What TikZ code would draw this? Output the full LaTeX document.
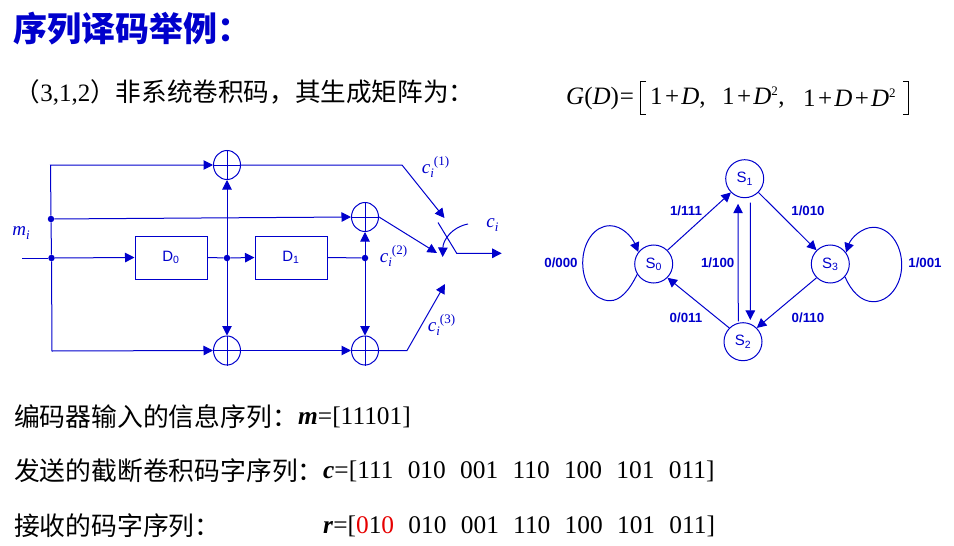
\documentclass[tikz,border=0pt]{standalone}
\usepackage{fontspec}
\setmainfont{Liberation Serif}
\newfontfamily\cjk{Noto Sans CJK SC}
\newfontfamily\arialf{Liberation Sans}
\usetikzlibrary{arrows.meta,shapes.geometric}
\definecolor{cblue}{RGB}{0,0,204}
\definecolor{cred}{RGB}{230,0,0}
\newcommand{\szz}[1]{\fontsize{#1}{#1}\selectfont}
\newcommand{\civar}{\textit{c}\raisebox{-0.2em}{\szz{13}\textit{i}}}
\newcommand{\cvar}[1]{\civar\raisebox{0.4em}{\szz{13}(#1)}}
\newcommand{\pls}{\kern2.3pt+\kern2.3pt}
\newcommand{\gap}{\hspace{14.3pt}}
\tikzset{
  wire/.style={cblue,line width=1pt},
  arr/.style={wire,-{Triangle[length=9.5pt,width=9.5pt]}},
  adder/.style={draw=cblue,line width=1pt,ellipse,minimum width=27pt,minimum height=29pt,inner sep=0pt},
  dot/.style={circle,fill=cblue,minimum size=6.5pt,inner sep=0pt},
  reg/.style={draw=cblue,line width=1pt,minimum width=72pt,minimum height=43pt,inner sep=0pt,text=cblue,font=\arialf\szz{15}},
  state/.style={circle,draw=cblue,line width=1pt,minimum size=38pt,inner sep=0pt,text=cblue,font=\arialf\szz{15}},
  tlabel/.style={text=cblue,inner sep=0pt,font=\arialf\bfseries\szz{13.3}},
  vlabel/.style={text=cblue,inner sep=0pt,font=\szz{19}},
  body/.style={anchor=west,inner sep=0pt,text=black,font=\szz{25}},
  latin/.style={anchor=west,inner sep=0pt,text=black,font=\szz{25.4}},
  heading/.style={anchor=west,inner sep=0pt,text=cblue,font=\cjk\bfseries\szz{34}},
}
\begin{document}
\begin{tikzpicture}[x=1pt,y=-1pt]
\useasboundingbox (0,0) rectangle (954,546);
% texts
\node[heading] (title) at (13,29) {序列译码举例：};
\node[body] (intro) at (14.5,92) {{\cjk\szz{25.6}（}3,1,2{\cjk\szz{25.6}）非系统卷积码，其生成矩阵为：}};
\node[body] (g0) at (566,98) {\textit{G}(\textit{D})\kern1pt=};
\node[body] (g1) at (650,98) {1\pls\textit{D},};
\node[body] (g2) at (722,98) {1\pls\textit{D}\textsuperscript{\szz{13}2},};
\node[body] (g3) at (803,98) {1\pls\textit{D}\pls\textit{D}\textsuperscript{\szz{13}2}};
\draw[black,line width=1pt] (646,81) -- (640.5,81) -- (640.5,114) -- (646,114);
\draw[black,line width=1pt] (903,81) -- (908.5,81) -- (908.5,114) -- (903,114);
\node[body] (l1) at (14,417) {{\cjk\szz{25.8}编码器输入的信息序列：}};
\node[latin] (l1b) at (298,417) {\textbf{\textit{m}}=[11101]};
\node[body] (l2) at (14,471) {{\cjk\szz{25.8}发送的截断卷积码字序列：}};
\node[latin] (l2b) at (323,471) {\textbf{\textit{c}}=[111\gap 010\gap 001\gap 110\gap 100\gap 101\gap 011]};
\node[body] (l3) at (14,526) {{\cjk\szz{25.8}接收的码字序列：}};
\node[latin] (l3b) at (323,526) {\textbf{\textit{r}}=[\textcolor{cred}{0}1\textcolor{cred}{0}\gap 010\gap 001\gap 110\gap 100\gap 101\gap 011]};
% encoder nodes
\node[adder] (a1) at (227,165) {};
\node[adder] (a2) at (365,217) {};
\node[adder] (a3) at (227,350.5) {};
\node[adder] (a4) at (365,350.5) {};
\foreach \a in {a1,a2,a3,a4} \draw[wire] (\a.north) -- (\a.south) (\a.west) -- (\a.east);
\node[reg] (d0) at (171,257.5) {D\textsubscript{0}};
\node[reg] (d1) at (291,257.5) {D\textsubscript{1}};
\node[dot] (j1) at (51,219) {};
\node[dot] (j2) at (51.5,258) {};
\node[dot] (j3) at (227,258) {};
\node[dot] (j4) at (365,258) {};
\coordinate (in) at (22,258);
\coordinate (c1) at (50.5,165);
\coordinate (c2) at (52,351);
\coordinate (k1) at (402,165);
\coordinate (k3) at (407,350.5);
\coordinate (t1) at (444.5,218);
\coordinate (t2) at (437,253);
\coordinate (t3) at (445,284);
\coordinate (s1) at (438,222.5);
\coordinate (s2) at (456.7,253.3);
\coordinate (out) at (501.7,253.3);
\coordinate (r1) at (468,224);
\coordinate (r2) at (442.7,257);
% encoder connectors
\draw[wire] (in) -- (j2);
\draw[arr] (j2) -- (d0.west);
\draw[wire] (d0.east) -- (j3);
\draw[arr] (j3) -- (d1.west);
\draw[wire] (d1.east) -- (j4);
\draw[arr] (j3) -- (a1.south);
\draw[arr] (j3) -- (a3.north);
\draw[arr] (j4) -- (a2.south);
\draw[arr] (j4) -- (a4.north);
\draw[wire] (j2) -- (j1);
\draw[arr] (j1) -- (c1) -- (a1.west);
\draw[arr] (j1) -- (a2.west);
\draw[arr] (j2) -- (c2) -- (a3.west);
\draw[arr] (a3.east) -- (a4.west);
\draw[arr] (a1.east) -- (k1) -- (t1);
\draw[arr] (a2.east) -- (t2);
\draw[arr] (a4.east) -- (k3) -- (t3);
\draw[arr] (s1) -- (s2) -- (out);
\draw[arr] (r1) .. controls (452,227) and (443,240) .. (r2);
% encoder labels
\node[vlabel] (lm) at (21,233) {\textit{m}\raisebox{-0.2em}{\szz{13}\textit{i}}};
\node[vlabel] (lc1) at (435.5,167) {\cvar{1}};
\node[vlabel] (lc2) at (393.5,256) {\cvar{2}};
\node[vlabel] (lc3) at (441.5,325) {\cvar{3}};
\node[vlabel] (lc) at (492.5,225) {\civar};
% state diagram
\node[state] (S0) at (653.7,264) {S\textsubscript{0}};
\node[state] (S1) at (744.7,178.7) {S\textsubscript{1}};
\node[state] (S2) at (743,341.7) {S\textsubscript{2}};
\node[state] (S3) at (830.3,264) {S\textsubscript{3}};
\draw[arr] (S0.45) -- (S1.225);
\draw[arr] (S1.-45) -- (S3.135);
\draw[arr] (S3.225) -- (S2.45);
\draw[arr] (S2.135) -- (S0.-45);
\draw[arr,shorten <=1.5pt,shorten >=6.7pt] (S2.104) -- (S1.250);
\draw[arr,shorten <=5.4pt,shorten >=3.7pt] (S1.287) -- (S2.68);
\draw[arr] (S0.212) .. controls (629,291) and (620,300.7) .. (610,300.7) .. controls (594,300.7) and (582.7,283) .. (582.7,263) .. controls (582.7,243) and (594,225.7) .. (610,225.7) .. controls (622,225.7) and (632,237) .. (S0.142);
\draw[arr] (S3.319) .. controls (851,291) and (861,301.7) .. (873.3,301.7) .. controls (889,301.7) and (901.7,285) .. (901.7,265) .. controls (901.7,244) and (889,227.3) .. (873.3,227.3) .. controls (862,227.3) and (851,238) .. (S3.36);
\node[tlabel] (e1) at (686,210.7) {1/111};
\node[tlabel] (e2) at (808,210.7) {1/010};
\node[tlabel] (e3) at (561,263) {0/000};
\node[tlabel] (e4) at (717.7,263) {1/100};
\node[tlabel] (e5) at (925,263) {1/001};
\node[tlabel] (e6) at (686,318) {0/011};
\node[tlabel] (e7) at (808,318) {0/110};
\end{tikzpicture}
\end{document}
